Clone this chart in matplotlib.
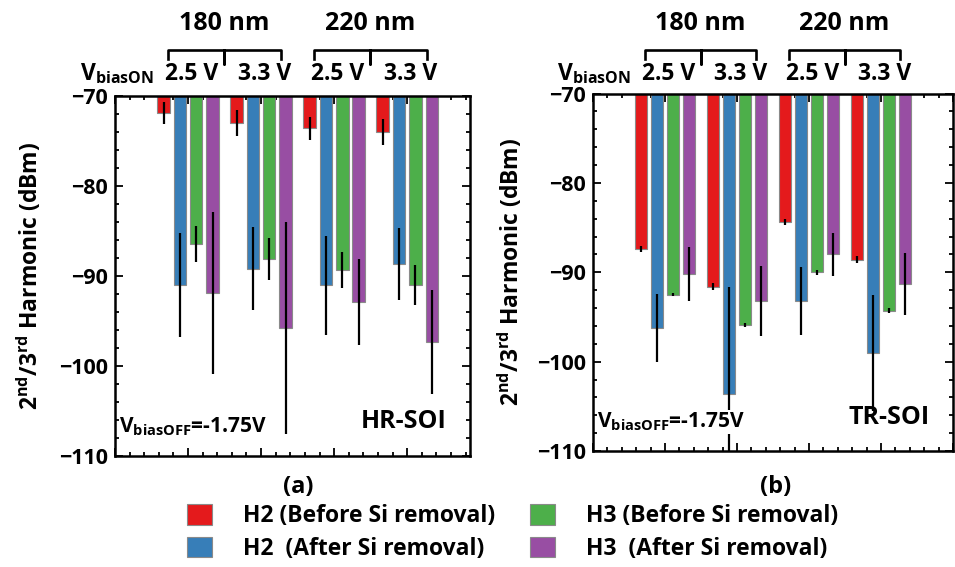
import matplotlib
matplotlib.use('Agg')
import matplotlib.pyplot as plt
import matplotlib.transforms as mtransforms
from matplotlib.ticker import MultipleLocator
import numpy as np

plt.rcParams['font.family'] = ['Open Sans', 'DejaVu Sans']
plt.rcParams['font.weight'] = 'bold'
plt.rcParams['mathtext.fontset'] = 'custom'
plt.rcParams['mathtext.rm'] = 'Open Sans:bold'
plt.rcParams['mathtext.bf'] = 'Open Sans:bold'
plt.rcParams['mathtext.it'] = 'Open Sans:bold'
plt.rcParams['mathtext.default'] = 'rm'

# data
node_labels = ['180 nm', '220 nm']
volt_labels = ['2.5 V', '3.3 V', '2.5 V', '3.3 V']
series_labels = ['H2 (Before Si removal)', 'H2  (After Si removal)',
                 'H3 (Before Si removal)', 'H3  (After Si removal)']
colors = ['#E41A1C', '#377EB8', '#4DAF4A', '#984EA3']

# (a) HR-SOI
hr_h2_before = [-71.9, -73.0, -73.6, -74.0]
hr_h2_before_err = [1.25, 1.4, 1.3, 1.4]
hr_h2_after = [-91.0, -89.2, -91.0, -88.7]
hr_h2_after_err = [5.8, 4.6, 5.5, 4.0]
hr_h3_before = [-86.4, -88.1, -89.3, -91.0]
hr_h3_before_err = [2.0, 2.3, 2.0, 2.2]
hr_h3_after = [-91.9, -95.8, -92.9, -97.3]
hr_h3_after_err = [9.0, 11.8, 4.8, 5.8]

# (b) TR-SOI
tr_h2_before = [-87.4, -91.6, -84.4, -88.6]
tr_h2_before_err = [0.3, 0.4, 0.35, 0.4]
tr_h2_after = [-96.2, -103.6, -93.2, -99.0]
tr_h2_after_err = [3.8, 12.0, 3.8, 6.5]
tr_h3_before = [-92.5, -95.9, -90.0, -94.3]
tr_h3_before_err = [0.2, 0.2, 0.3, 0.3]
tr_h3_after = [-90.2, -93.2, -88.0, -91.3]
tr_h3_after_err = [3.0, 3.9, 2.4, 3.5]

fig = plt.figure(figsize=(9.55, 5.67), dpi=100)
axL = fig.add_axes([115/955, 1-456/567, 355/955, 360/567])
axR = fig.add_axes([593/955, 1-451/567, 360/955, 357.5/567])

x = np.arange(1, 5)
offsets = [-0.336, -0.112, 0.112, 0.336]
width = 0.17
fs = 16.5


def draw_panel(ax, vals, errs, xmax, tag, box_note):
    handles = []
    for i in range(4):
        v = np.array(vals[i])
        b = ax.bar(x + offsets[i], v + 70, bottom=-70, width=width,
                   color=colors[i], edgecolor='#8a8a8a', linewidth=0.8,
                   zorder=2)
        ax.errorbar(x + offsets[i], v, yerr=errs[i], fmt='none',
                    ecolor='black', elinewidth=1.6, capsize=0, zorder=3)
        handles.append(b)
    ax.set_ylim(-110, -70)
    ax.set_xlim(0, xmax)
    ax.set_yticks([-70, -80, -90, -100, -110])
    ax.yaxis.set_minor_locator(MultipleLocator(2))
    ax.xaxis.set_major_locator(MultipleLocator(1))
    ax.xaxis.set_minor_locator(MultipleLocator(0.2))
    ax.set_xticklabels([])
    ax.tick_params(which='both', direction='in', top=True, right=True,
                   width=1.3, labelsize=15.5, pad=5)
    ax.tick_params(which='major', length=6)
    ax.tick_params(which='minor', length=3)
    for s in ax.spines.values():
        s.set_linewidth(1.8)
    ax.set_ylabel(r'2$^{nd}$/3$^{rd}$ Harmonic (dBm)', fontsize=fs,
                  fontweight='bold')
    ax.text(0.012, 0.05, r'V$_{biasOFF}$=-1.75V', transform=ax.transAxes,
            fontsize=15, ha='left', va='bottom', zorder=5,
            bbox=dict(facecolor='white', edgecolor='none', pad=0.5) if box_note else None)
    ax.text(0.935, 0.06, tag, transform=ax.transAxes, fontsize=18,
            ha='right', va='bottom')

    # bracket labels above the plot
    tr = mtransforms.blended_transform_factory(ax.transData, fig.transFigure)
    ax.text(0.53, 1-73.5/567, r'V$_{biasON}$', transform=tr, fontsize=fs,
            ha='right', va='center')
    for j in range(4):
        ax.text(x[j] + 0.05, 1-73.5/567, volt_labels[j], transform=tr,
                fontsize=fs, ha='center', va='center')
    for k in range(2):
        x0 = x[2*k] - 0.28
        x1 = x[2*k+1] + 0.27
        xc = (x0 + x1) / 2
        ytop, yhook, ynotch = 1-50/567, 1-59/567, 1-64/567
        ax.plot([x0, x0, xc, xc, xc, x1, x1],
                [yhook, ytop, ytop, ynotch, ytop, ytop, yhook],
                transform=tr, color='black', lw=1.9, clip_on=False,
                solid_joinstyle='round')
        ax.text(xc, 1-23/567, node_labels[k], transform=tr, fontsize=18,
                ha='center', va='center')
    return handles


hr_vals = [hr_h2_before, hr_h2_after, hr_h3_before, hr_h3_after]
hr_errs = [hr_h2_before_err, hr_h2_after_err, hr_h3_before_err, hr_h3_after_err]
tr_vals = [tr_h2_before, tr_h2_after, tr_h3_before, tr_h3_after]
tr_errs = [tr_h2_before_err, tr_h2_after_err, tr_h3_before_err, tr_h3_after_err]

handles = draw_panel(axL, hr_vals, hr_errs, 4.86, 'HR-SOI', False)
draw_panel(axR, tr_vals, tr_errs, 5.0, 'TR-SOI', True)

axL.yaxis.set_label_coords(-0.2, 0.5)
axR.yaxis.set_label_coords(-0.19, 0.5)

fig.text(298/955, 1-487/567, '(a)', fontsize=17, ha='center', va='center')
fig.text(776/955, 1-487/567, '(b)', fontsize=17, ha='center', va='center')

fig.legend(handles, series_labels, ncol=2, loc='upper left',
           bbox_to_anchor=(187/955, 1-504/567), frameon=False,
           fontsize=fs, handlelength=1.1, handleheight=1.0,
           handletextpad=1.35, columnspacing=1.5, labelspacing=0.38,
           borderpad=0, borderaxespad=0)

fig.savefig('out.png', dpi=100)
